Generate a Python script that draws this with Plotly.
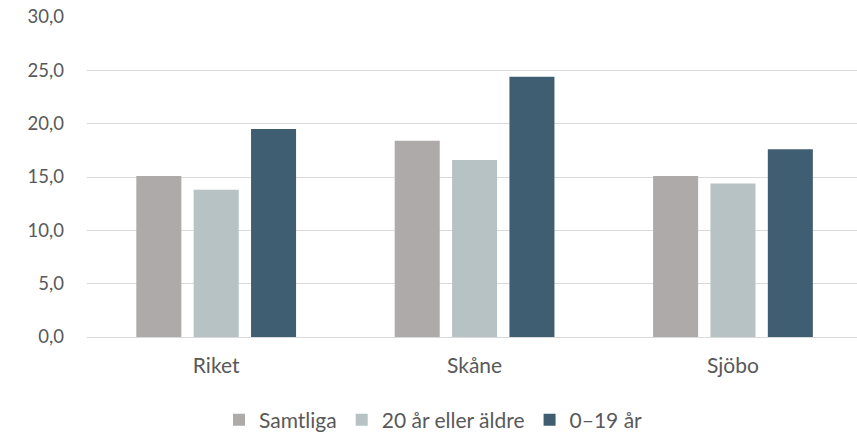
import plotly.graph_objects as go

# Regions and series values (percent)
regioner = ["Riket", "Skåne", "Sjöbo"]
samtliga = [15.1, 18.4, 15.1]
aldre_20 = [13.8, 16.6, 14.4]
unga_0_19 = [19.5, 24.4, 17.6]

serie_namn = ["Samtliga", "20 år eller äldre", "0–19 år"]
serie_farg = ["#AEAAA9", "#B7C2C4", "#405E72"]
y_ticks = [0, 5, 10, 15, 20, 25, 30]

text_farg = "#595959"
font_namn = "Lato"

fig = go.Figure()
for namn, varden, farg in zip(serie_namn, [samtliga, aldre_20, unga_0_19], serie_farg):
    fig.add_trace(go.Bar(
        x=regioner, y=varden, name=namn,
        marker=dict(color=farg, line=dict(width=0)),
    ))

fig.update_layout(
    width=857, height=435,
    margin=dict(l=87, r=0, t=17, b=98, autoexpand=False),
    paper_bgcolor="white", plot_bgcolor="white",
    barmode="group", bargap=0.334, bargroupgap=0.215,
    separators=", ",
    font=dict(family=font_namn, size=20, color=text_farg),
    showlegend=True,
    legend=dict(
        orientation="h", x=0.45, xanchor="center", y=-0.196, yanchor="top",
        font=dict(size=21, color=text_farg), traceorder="normal",
        itemwidth=30,
    ),
)
fig.update_yaxes(
    range=[0, 30], tickvals=y_ticks, tickformat=".1f", automargin=False,
    showgrid=True, gridcolor="#D9D9D9", gridwidth=1,
    zeroline=True, zerolinecolor="#D9D9D9", zerolinewidth=1,
    showline=False, ticks="", ticklabelstandoff=22,
    tickfont=dict(size=18.5, color=text_farg),
)
fig.update_xaxes(
    range=[-0.5, 2.48], showgrid=False, showline=False, ticks="", automargin=False,
    tickfont=dict(size=21, color=text_farg), ticklabelstandoff=14,
)

fig.write_html("out.html")
